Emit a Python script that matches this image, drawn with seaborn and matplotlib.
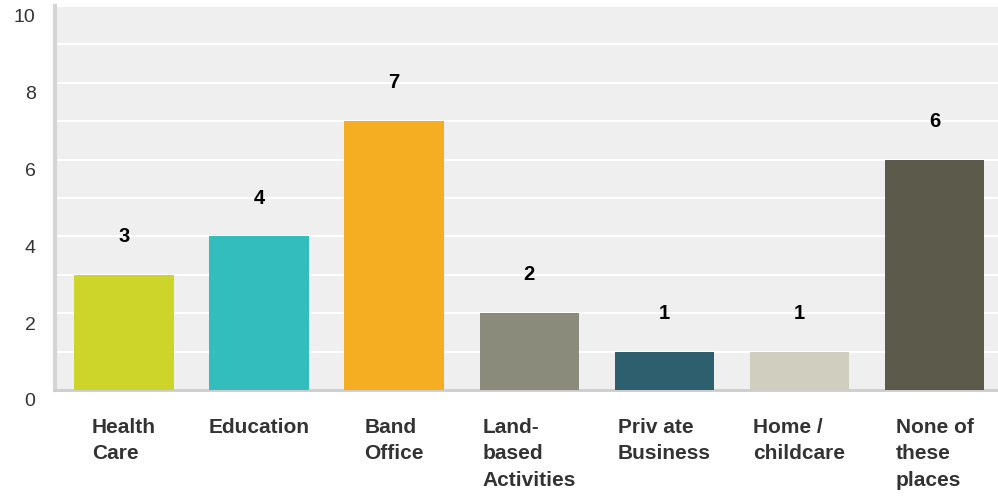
import pandas as pd
import numpy as np
import matplotlib.pyplot as plt
import matplotlib.transforms as mtrans
import seaborn as sns

categories = ["Health\nCare", "Education", "Band\nOffice", "Land-\nbased\nActivities",
              "Priv ate\nBusiness", "Home /\nchildcare", "None of\nthese\nplaces"]
counts = [3, 4, 7, 2, 1, 1, 6]
colors = ["#cdd52a", "#33bdbd", "#f5ae22", "#8a8b7a", "#2e5f6e", "#cfcebf", "#5c5a4a"]

df = pd.DataFrame({"place": categories, "count": counts})

sns.set_style("white")
plt.rcParams['font.family'] = ['Liberation Sans', 'DejaVu Sans']

fig = plt.figure(figsize=(9.98, 4.97), dpi=100)
ax = fig.add_axes([55/998, (497-390)/497, (998-55)/998, (390-6)/497])

sns.barplot(data=df, x="place", y="count", hue="place", palette=colors,
            width=0.735, legend=False, ax=ax, saturation=1, linewidth=0, zorder=3)

ax.set_facecolor("#efefef")
ax.set_ylim(0, 10)
ax.set_xlim(-0.51, 6.47)
ax.set_yticks(range(0, 11, 2))
ax.set_yticks(range(1, 10, 2), minor=True)
ax.grid(axis="y", which="both", color="white", linewidth=1.5, zorder=0)
ax.set_axisbelow(True)

for s in ["top", "right"]:
    ax.spines[s].set_visible(False)
ax.spines["left"].set_color("#d5d5d5")
ax.spines["left"].set_linewidth(3)
ax.spines["bottom"].set_color("#cccccc")
ax.spines["bottom"].set_linewidth(2)

ax.tick_params(axis="y", which="both", length=0, labelsize=14, labelcolor="#333333", pad=14)
ax.tick_params(axis="x", length=0, pad=20)
ax.set_xticks(range(len(categories)))
ax.set_xticklabels(categories, fontsize=15, fontweight="bold", color="#333333",
                   va="top", ha="center", multialignment="left", linespacing=1.5)
ax.set_xlabel("")
ax.set_ylabel("")

# y labels sit a bit below their gridlines
off = mtrans.ScaledTranslation(0, -10/100, fig.dpi_scale_trans)
for lbl in ax.get_yticklabels():
    lbl.set_transform(lbl.get_transform() + off)

for i, v in enumerate(counts):
    ax.text(i, v + 1, str(v), ha="center", va="center", fontsize=14.5,
            fontweight="bold", color="black")

fig.savefig("out.png", dpi=100)
